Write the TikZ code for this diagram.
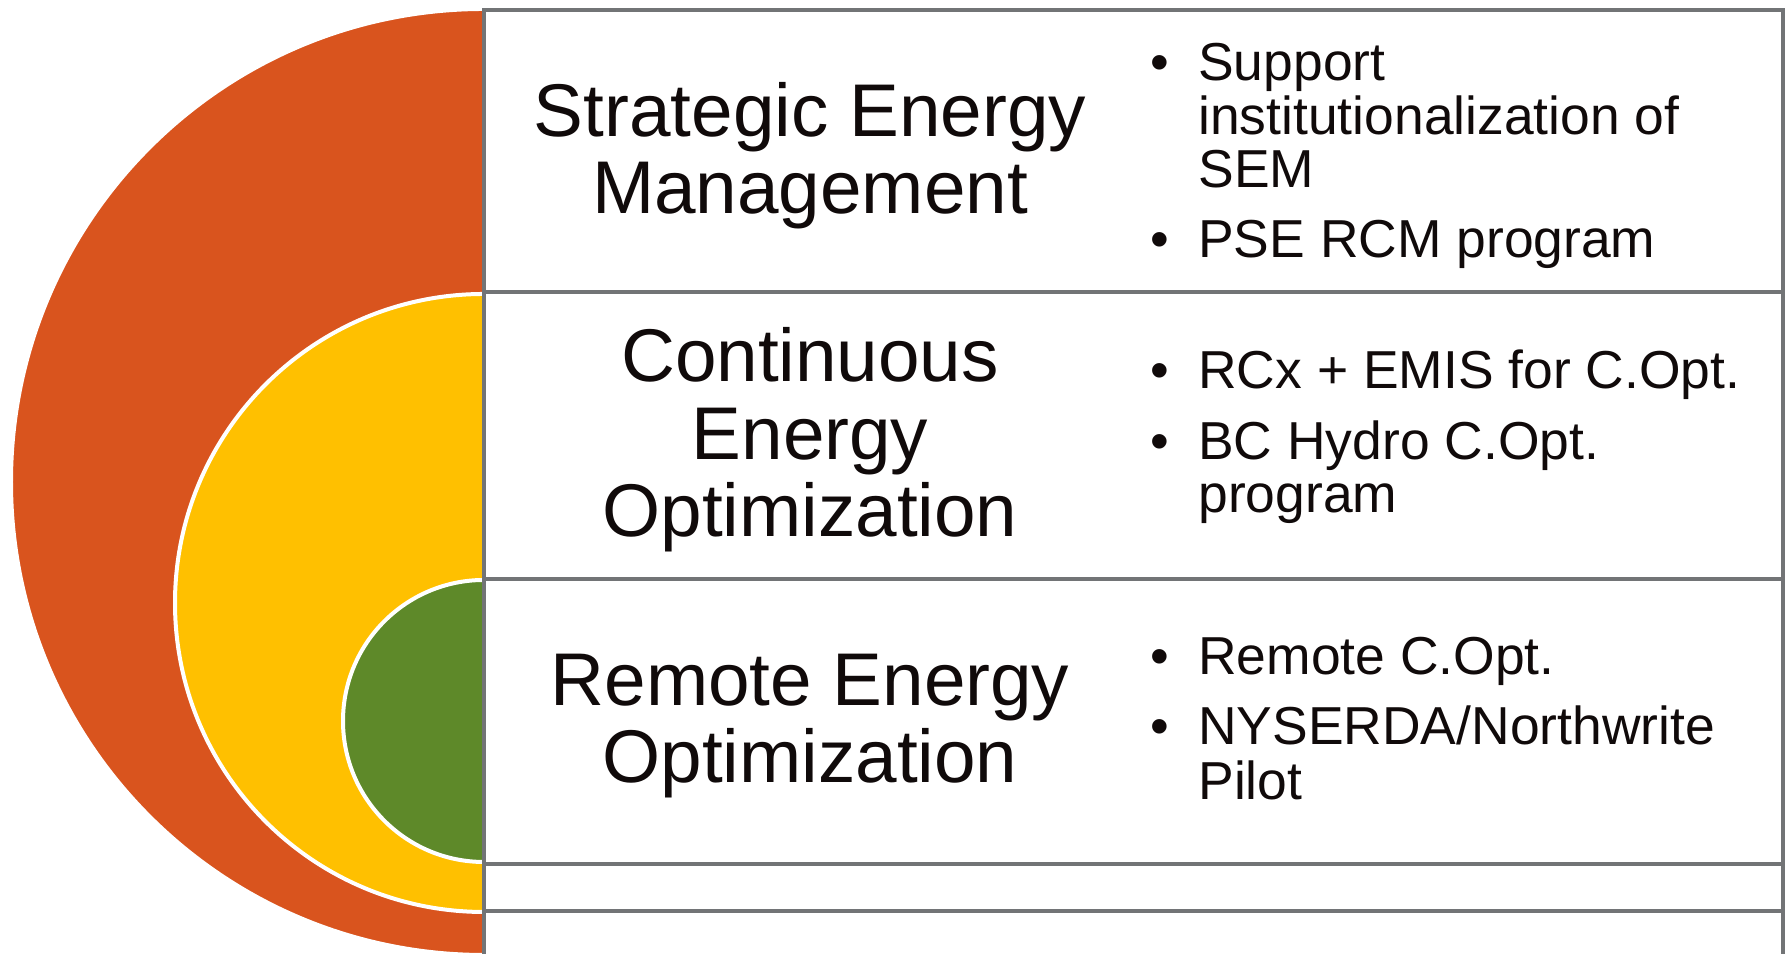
\documentclass[tikz,border=0pt]{standalone}
\usepackage{fontspec}
\setmainfont{Liberation Sans}
\usepackage{tikz}
\usetikzlibrary{positioning}
\definecolor{rust}{RGB}{217,84,30}
\definecolor{amber}{RGB}{255,192,0}
\definecolor{leaf}{RGB}{94,137,41}
\definecolor{frame}{RGB}{114,116,118}
\definecolor{ink}{RGB}{16,10,10}

\begin{document}
\begin{tikzpicture}[
ring/.style={circle, draw = white, line width = 0.04cm, inner sep = 0},
rowrect/.style={rectangle, draw = frame, fill = white, line width = 0.04cm,
minimum width = 12.99cm, inner sep = 0, outer sep = 0},
title/.style={align = center, text = ink, inner sep = 0,
font = \fontsize{21.25}{22}\selectfont},
items/.style={anchor = west, text = ink, inner sep = 0,
font = \fontsize{15.2}{15}\selectfont},
node distance = 0cm]

\useasboundingbox (0,0) rectangle (17.89,9.54);
\clip (0,0) rectangle (17.89,9.54);

% nested target
\node[ring, fill = rust, minimum size = 9.46cm] (SEMring) at (4.84,4.72) {};
\node[ring, fill = amber, minimum size = 6.18cm] (CEOring) at (4.84,3.51) {};
\node[ring, fill = leaf, minimum size = 2.82cm] (REOring) at (4.84,2.33) {};

% rows
\node[rowrect, minimum height = 2.82cm, anchor = north] (SEMrow) at (11.335,9.44) {};
\node[rowrect, minimum height = 2.87cm, below = of SEMrow] (CEOrow) {};
\node[rowrect, minimum height = 2.85cm, below = of CEOrow] (REOrow) {};
\node[rowrect, minimum height = 0.47cm, below = of REOrow] (row4) {};
\node[rowrect, minimum height = 0.48cm, below = of row4] (row5) {};

\node[title] (SEMtitle) at (8.10,7.98) {Strategic Energy\\Management};
\node[title] (CEOtitle) at (8.10,5.14) {Continuous\\Energy\\Optimization};
\node[title] (REOtitle) at (8.10,2.28) {Remote Energy\\Optimization};

\node[items] (SEMlist) at (11.50,7.96) {\begin{tabular}{@{}l@{\hspace{0.29cm}}l@{}}
\textbullet & Support\\ & institutionalization of\\ & SEM\\[4.6pt]
\textbullet & PSE RCM program\end{tabular}};
\node[items] (CEOlist) at (11.50,5.15) {\begin{tabular}{@{}l@{\hspace{0.29cm}}l@{}}
\textbullet & RCx + EMIS for C.Opt.\\[4.6pt]
\textbullet & BC Hydro C.Opt.\\ & program\end{tabular}};
\node[items] (REOlist) at (11.50,2.28) {\begin{tabular}{@{}l@{\hspace{0.29cm}}l@{}}
\textbullet & Remote C.Opt.\\[4.6pt]
\textbullet & NYSERDA/Northwrite\\ & Pilot\end{tabular}};
\end{tikzpicture}
\end{document}
